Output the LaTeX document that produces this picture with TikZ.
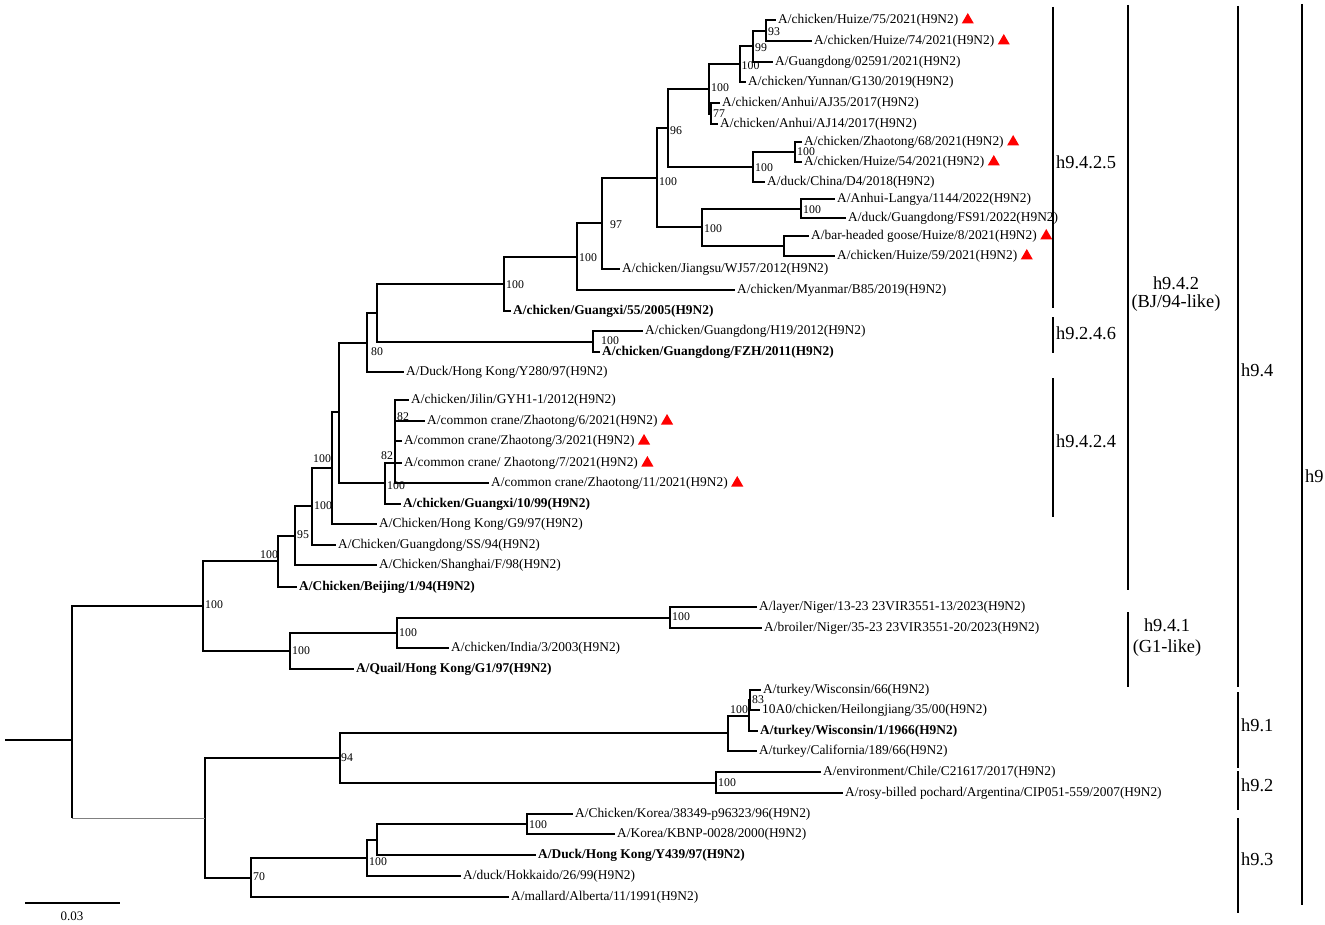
\documentclass[tikz,border=0pt]{standalone}
\usepackage{fontspec}
\setmainfont{Liberation Serif}
\usetikzlibrary{positioning,shapes.geometric}

\begin{document}
\begin{tikzpicture}[x=1pt,y=-1pt,
  branch/.style={line width=1.8pt},
  leaf/.style={anchor=west, inner xsep=2pt, inner ysep=1pt, font=\fontsize{13.4}{15}\selectfont},
  leafb/.style={leaf, font=\fontsize{13.4}{15}\selectfont\bfseries},
  boot/.style={anchor=west, inner sep=0pt, font=\fontsize{11.8}{12}\selectfont},
  tri/.style={regular polygon, regular polygon sides=3, fill=red, inner sep=0pt, minimum size=14pt},
  bar/.style={line width=2.4pt},
  clade/.style={anchor=west, inner sep=0pt, font=\fontsize{18.4}{21}\selectfont}]
   \useasboundingbox (0,0) rectangle (1325,925);

   % inner nodes of the tree
   \coordinate (a) at (766,31);
   \coordinate (b) at (753,46);
   \coordinate (c) at (740,64);
   \coordinate (d) at (711,114);
   \coordinate (e) at (709,89);
   \coordinate (h) at (795,152);
   \coordinate (g) at (753,167);
   \coordinate (f) at (668,128);
   \coordinate (k) at (801,209);
   \coordinate (l) at (784,246);
   \coordinate (j) at (702,227);
   \coordinate (i) at (657,178);
   \coordinate (q) at (602,223);
   \coordinate (m) at (577,257);
   \coordinate (n) at (504,284);
   \coordinate (o) at (593,342);
   \coordinate (s) at (377,313);
   \coordinate (t) at (367,343);
   \coordinate (cr) at (395,463);
   \coordinate (p) at (385,483);
   \coordinate (u) at (339,412);
   \coordinate (v) at (332,468);
   \coordinate (w) at (312,506);
   \coordinate (x) at (295,536);
   \coordinate (y) at (278,561);
   \coordinate (ng) at (670,618);
   \coordinate (ni) at (397,633);
   \coordinate (nh) at (290,651);
   \coordinate (g9) at (203,606);
   \coordinate (tw) at (750,700);
   \coordinate (tl) at (749,716);
   \coordinate (tk) at (728,733);
   \coordinate (ch) at (716,783);
   \coordinate (n94) at (340,758);
   \coordinate (kw) at (527,824);
   \coordinate (kv) at (377,840);
   \coordinate (ku) at (367,858);
   \coordinate (kt) at (251,878);
   \coordinate (ks) at (205,818);
   \coordinate (rt) at (72,740);
   \coordinate (root) at (5,740);

   % leaves
   \node[leaf] (l1) at (776,20) {A/chicken/Huize/75/2021(H9N2)};
   \node[leaf] (l2) at (812,41) {A/chicken/Huize/74/2021(H9N2)};
   \node[leaf] (l3) at (773,62) {A/Guangdong/02591/2021(H9N2)};
   \node[leaf] (l4) at (746,82) {A/chicken/Yunnan/G130/2019(H9N2)};
   \node[leaf] (l5) at (720,103) {A/chicken/Anhui/AJ35/2017(H9N2)};
   \node[leaf] (l6) at (718,124) {A/chicken/Anhui/AJ14/2017(H9N2)};
   \node[leaf] (l7) at (802,142) {A/chicken/Zhaotong/68/2021(H9N2)};
   \node[leaf] (l8) at (802,162) {A/chicken/Huize/54/2021(H9N2)};
   \node[leaf] (l9) at (765,182) {A/duck/China/D4/2018(H9N2)};
   \node[leaf] (l10) at (835,199) {A/Anhui-Langya/1144/2022(H9N2)};
   \node[leaf] (l11) at (846,218) {A/duck/Guangdong/FS91/2022(H9N2)};
   \node[leaf] (l12) at (809,236) {A/bar-headed goose/Huize/8/2021(H9N2)};
   \node[leaf] (l13) at (835,256) {A/chicken/Huize/59/2021(H9N2)};
   \node[leaf] (l14) at (620,269) {A/chicken/Jiangsu/WJ57/2012(H9N2)};
   \node[leaf] (l15) at (735,290) {A/chicken/Myanmar/B85/2019(H9N2)};
   \node[leafb] (l16) at (511,311) {A/chicken/Guangxi/55/2005(H9N2)};
   \node[leaf] (l17) at (643,331) {A/chicken/Guangdong/H19/2012(H9N2)};
   \node[leafb] (l18) at (600,352) {A/chicken/Guangdong/FZH/2011(H9N2)};
   \node[leaf] (l19) at (404,372) {A/Duck/Hong Kong/Y280/97(H9N2)};
   \node[leaf] (l20) at (409,400) {A/chicken/Jilin/GYH1-1/2012(H9N2)};
   \node[leaf] (l21) at (425,421) {A/common crane/Zhaotong/6/2021(H9N2)};
   \node[leaf] (l22) at (402,441) {A/common crane/Zhaotong/3/2021(H9N2)};
   \node[leaf] (l23) at (402,463) {A/common crane/ Zhaotong/7/2021(H9N2)};
   \node[leaf] (l24) at (489,483) {A/common crane/Zhaotong/11/2021(H9N2)};
   \node[leafb] (l25) at (401,504) {A/chicken/Guangxi/10/99(H9N2)};
   \node[leaf] (l26) at (377,524) {A/Chicken/Hong Kong/G9/97(H9N2)};
   \node[leaf] (l27) at (336,545) {A/Chicken/Guangdong/SS/94(H9N2)};
   \node[leaf] (l28) at (377,565) {A/Chicken/Shanghai/F/98(H9N2)};
   \node[leafb] (l29) at (297,587) {A/Chicken/Beijing/1/94(H9N2)};
   \node[leaf] (l30) at (757,607) {A/layer/Niger/13-23 23VIR3551-13/2023(H9N2)};
   \node[leaf] (l31) at (762,628) {A/broiler/Niger/35-23 23VIR3551-20/2023(H9N2)};
   \node[leaf] (l32) at (449,648) {A/chicken/India/3/2003(H9N2)};
   \node[leafb] (l33) at (354,669) {A/Quail/Hong Kong/G1/97(H9N2)};
   \node[leaf] (l34) at (761,690) {A/turkey/Wisconsin/66(H9N2)};
   \node[leaf] (l35) at (760,710) {10A0/chicken/Heilongjiang/35/00(H9N2)};
   \node[leafb] (l36) at (758,731) {A/turkey/Wisconsin/1/1966(H9N2)};
   \node[leaf] (l37) at (757,751) {A/turkey/California/189/66(H9N2)};
   \node[leaf] (l38) at (821,772) {A/environment/Chile/C21617/2017(H9N2)};
   \node[leaf] (l39) at (843,793) {A/rosy-billed pochard/Argentina/CIP051-559/2007(H9N2)};
   \node[leaf] (l40) at (573,814) {A/Chicken/Korea/38349-p96323/96(H9N2)};
   \node[leaf] (l41) at (615,834) {A/Korea/KBNP-0028/2000(H9N2)};
   \node[leafb] (l42) at (536,855) {A/Duck/Hong Kong/Y439/97(H9N2)};
   \node[leaf] (l43) at (461,876) {A/duck/Hokkaido/26/99(H9N2)};
   \node[leaf] (l44) at (509,897) {A/mallard/Alberta/11/1991(H9N2)};

   % red marks for the new strains
   \node[tri, right=3pt of l1] (m1) {};
   \node[tri, right=3pt of l2] (m2) {};
   \node[tri, right=3pt of l7] (m7) {};
   \node[tri, right=3pt of l8] (m8) {};
   \node[tri, right=3pt of l12] (m12) {};
   \node[tri, right=3pt of l13] (m13) {};
   \node[tri, right=3pt of l21] (m21) {};
   \node[tri, right=3pt of l22] (m22) {};
   \node[tri, right=3pt of l23] (m23) {};
   \node[tri, right=3pt of l24] (m24) {};

   % branches
   \draw[branch] (a) |- (l1.west);
   \draw[branch] (a) |- (l2.west);
   \draw[branch] (b) |- (a);
   \draw[branch] (b) |- (l3.west);
   \draw[branch] (c) |- (b);
   \draw[branch] (c) |- (l4.west);
   \draw[branch] (d) |- (l5.west);
   \draw[branch] (d) |- (l6.west);
   \draw[branch] (e) |- (c);
   \draw[branch] (e) |- (d);
   \draw[branch] (h) |- (l7.west);
   \draw[branch] (h) |- (l8.west);
   \draw[branch] (g) |- (h);
   \draw[branch] (g) |- (l9.west);
   \draw[branch] (f) |- (e);
   \draw[branch] (f) |- (g);
   \draw[branch] (k) |- (l10.west);
   \draw[branch] (k) |- (l11.west);
   \draw[branch] (l) |- (l12.west);
   \draw[branch] (l) |- (l13.west);
   \draw[branch] (j) |- (k);
   \draw[branch] (j) |- (l);
   \draw[branch] (i) |- (f);
   \draw[branch] (i) |- (j);
   \draw[branch] (q) |- (i);
   \draw[branch] (q) |- (l14.west);
   \draw[branch] (m) |- (q);
   \draw[branch] (m) |- (l15.west);
   \draw[branch] (n) |- (m);
   \draw[branch] (n) |- (l16.west);
   \draw[branch] (o) |- (l17.west);
   \draw[branch] (o) |- (l18.west);
   \draw[branch] (s) |- (n);
   \draw[branch] (s) |- (o);
   \draw[branch] (t) |- (s);
   \draw[branch] (t) |- (l19.west);
   \draw[branch] (cr) |- (l20.west);
   \draw[branch] (cr) |- (l21.west);
   \draw[branch] (cr) |- (l22.west);
   \draw[branch] (cr) |- (l23.west);
   \draw[branch] (cr) |- (l24.west);
   \draw[branch] (p) |- (cr);
   \draw[branch] (p) |- (l25.west);
   \draw[branch] (u) |- (t);
   \draw[branch] (u) |- (p);
   \draw[branch] (v) |- (u);
   \draw[branch] (v) |- (l26.west);
   \draw[branch] (w) |- (v);
   \draw[branch] (w) |- (l27.west);
   \draw[branch] (x) |- (w);
   \draw[branch] (x) |- (l28.west);
   \draw[branch] (y) |- (x);
   \draw[branch] (y) |- (l29.west);
   \draw[branch] (ng) |- (l30.west);
   \draw[branch] (ng) |- (l31.west);
   \draw[branch] (ni) |- (ng);
   \draw[branch] (ni) |- (l32.west);
   \draw[branch] (nh) |- (ni);
   \draw[branch] (nh) |- (l33.west);
   \draw[branch] (g9) |- (y);
   \draw[branch] (g9) |- (nh);
   \draw[branch] (tw) |- (l34.west);
   \draw[branch] (tw) |- (l35.west);
   \draw[branch] (tl) |- (tw);
   \draw[branch] (tl) |- (l36.west);
   \draw[branch] (tk) |- (tl);
   \draw[branch] (tk) |- (l37.west);
   \draw[branch] (ch) |- (l38.west);
   \draw[branch] (ch) |- (l39.west);
   \draw[branch] (n94) |- (tk);
   \draw[branch] (n94) |- (ch);
   \draw[branch] (kw) |- (l40.west);
   \draw[branch] (kw) |- (l41.west);
   \draw[branch] (kv) |- (kw);
   \draw[branch] (kv) |- (l42.west);
   \draw[branch] (ku) |- (kv);
   \draw[branch] (ku) |- (l43.west);
   \draw[branch] (kt) |- (ku);
   \draw[branch] (kt) |- (l44.west);
   \draw[branch] (ks) |- (n94);
   \draw[branch] (ks) |- (kt);
   \draw[branch] (rt) |- (g9);
   \draw[branch] (rt) -- (rt |- ks);
   \draw[line width=1pt, gray] (rt |- ks) -- (ks);
   \draw[branch] (root) -- (rt);

   % bootstrap values
   \node[boot] (v1) at (768,32) {93};
   \node[boot] (v2) at (755,48) {99};
   \node[boot] (v3) at (741.5,66) {100};
   \node[boot] (v4) at (713,114) {77};
   \node[boot] (v5) at (711,88) {100};
   \node[boot] (v6) at (797,152) {100};
   \node[boot] (v7) at (755,168) {100};
   \node[boot] (v8) at (670,131) {96};
   \node[boot] (v9) at (803,210) {100};
   \node[boot] (v10) at (704,229) {100};
   \node[boot] (v11) at (659,182) {100};
   \node[boot] (v12) at (610,225) {97};
   \node[boot] (v13) at (579,258) {100};
   \node[boot] (v14) at (506,285) {100};
   \node[boot] (v15) at (601,341) {100};
   \node[boot] (v16) at (371,352) {80};
   \node[boot] (v17) at (397,417) {82};
   \node[boot] (v18) at (381,456) {82};
   \node[boot] (v19) at (387,486) {100};
   \node[boot] (v20) at (313,459) {100};
   \node[boot] (v21) at (314,506) {100};
   \node[boot] (v22) at (297,535) {95};
   \node[boot] (v23) at (260,555) {100};
   \node[boot] (v24) at (672,617) {100};
   \node[boot] (v25) at (399,633) {100};
   \node[boot] (v26) at (292,651) {100};
   \node[boot] (v27) at (205,605) {100};
   \node[boot] (v28) at (752,700) {83};
   \node[boot] (v29) at (730,710) {100};
   \node[boot] (v30) at (718,783) {100};
   \node[boot] (v31) at (341,758) {94};
   \node[boot] (v32) at (529,825) {100};
   \node[boot] (v33) at (369,862) {100};
   \node[boot] (v34) at (253,877) {70};

   % clade bars
   \draw[bar] (1053,7) -- (1053,308);
   \draw[bar] (1053,317) -- (1053,353);
   \draw[bar] (1053,378) -- (1053,517);
   \draw[bar] (1128,5) -- (1128,590);
   \draw[bar] (1128,612) -- (1128,687);
   \draw[bar] (1238,6) -- (1238,687);
   \draw[bar] (1238,692) -- (1238,768);
   \draw[bar] (1238,771) -- (1238,810);
   \draw[bar] (1238,818) -- (1238,913);
   \draw[bar] (1302,4) -- (1302,905);
   \node[clade] (c1) at (1056,162) {h9.4.2.5};
   \node[clade] (c2) at (1056,333) {h9.2.4.6};
   \node[clade] (c3) at (1056,441) {h9.4.2.4};
   \node[clade, anchor=center, align=center, font=\fontsize{18.4}{18}\selectfont] (c4) at (1176,294) {h9.4.2\\(BJ/94-like)};
   \node[clade, anchor=center, align=center] (c5) at (1167,637.5) {h9.4.1\\(G1-like)};
   \node[clade] (c6) at (1241,370) {h9.4};
   \node[clade] (c7) at (1241,725) {h9.1};
   \node[clade] (c8) at (1241,785) {h9.2};
   \node[clade] (c9) at (1241,859) {h9.3};
   \node[clade] (c10) at (1305,476) {h9};

   % scale bar
   \coordinate (sb1) at (25,903);
   \coordinate (sb2) at (120,903);
   \draw[branch] (sb1) -- (sb2);
   \node[font=\fontsize{13}{14}\selectfont] (sbl) at (72,916) {0.03};
\end{tikzpicture}
\end{document}
